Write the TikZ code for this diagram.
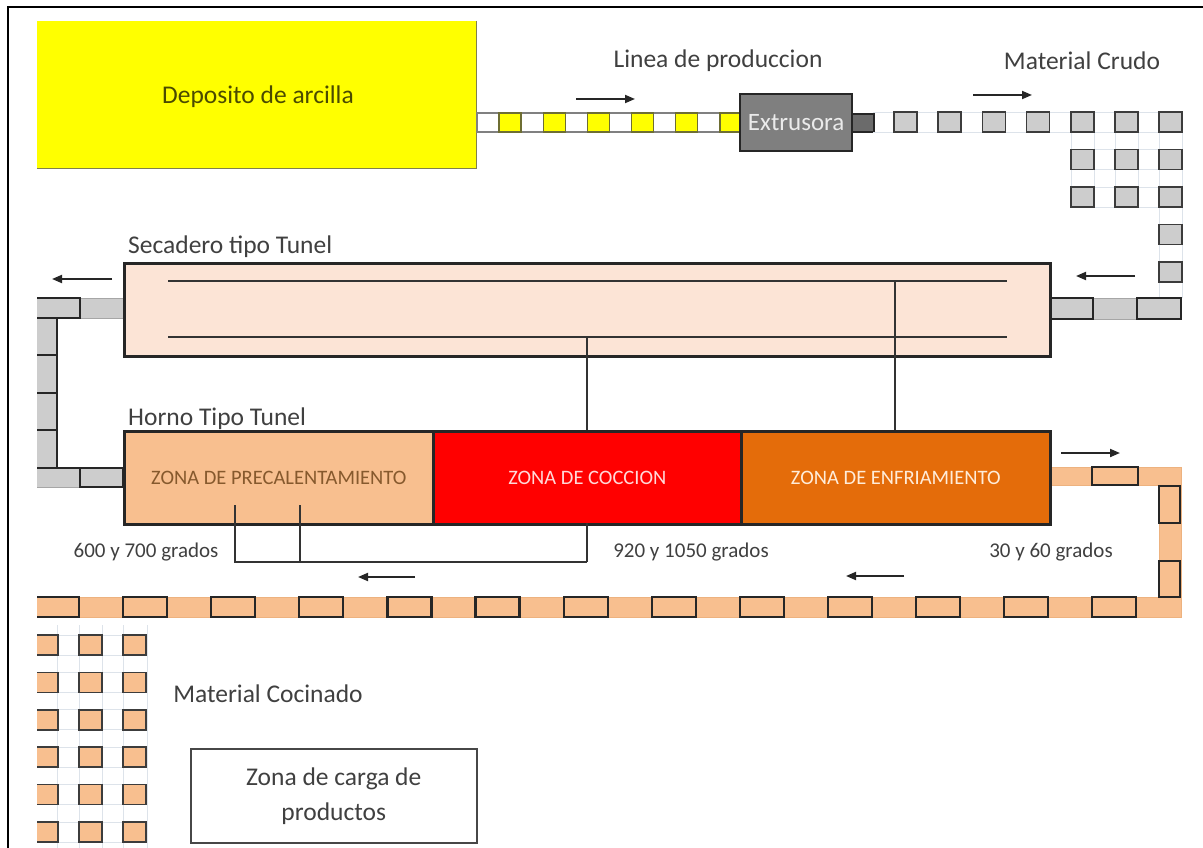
\documentclass[tikz,border=0pt]{standalone}
\usepackage{fontspec}
\setmainfont{Carlito}
\usetikzlibrary{arrows.meta}
\definecolor{txt}{HTML}{404040}
\definecolor{yel}{HTML}{FFFF00}
\definecolor{oliv}{HTML}{4A4A00}
\definecolor{peach}{HTML}{F8BF8F}
\definecolor{secfill}{HTML}{FCE4D6}
\definecolor{enf}{HTML}{E46C0A}
\definecolor{grayc}{HTML}{CDCDCD}
\definecolor{gridc}{HTML}{DDE3EA}
\definecolor{dark}{HTML}{262626}
\definecolor{extr}{HTML}{7F7F7F}
\begin{document}
\begin{tikzpicture}[x=1pt,y=-1pt,
  lbl/.style={text=txt,font=\fontsize{25.5}{30}\selectfont,inner sep=0pt},
  zone/.style={draw=dark,line width=2.6pt,minimum height=93pt,inner sep=0pt,anchor=north west,font=\fontsize{20.5}{24}\selectfont},
  grd/.style={font=\fontsize{21}{25}\selectfont,text=txt,inner sep=0pt},
  arr/.style={line width=1.9pt,draw=black!85,-{Triangle[length=10pt,width=8pt]}},
  gsq/.style={fill=grayc,draw=dark!90,line width=1.6pt},
  osq/.style={fill=peach,draw=dark!90,line width=1.6pt},
  brick/.style={draw=dark,line width=2.2pt},
  link/.style={draw=black!80,line width=1.6pt},
  faint/.style={draw=gridc,line width=0.9pt}
]
\useasboundingbox (0,0) rectangle (1203,848);
\fill[white] (0,0) rectangle (1203,848);
% frame
\draw[line width=2pt] (8,848) -- (8,7) -- (1203,7);

% deposito
\node[fill=yel,minimum width=439pt,minimum height=147pt,inner sep=0pt,anchor=north west] (dep) at (37,21) {};
\draw[oliv!70,line width=1.4pt] (dep.north east) -- (dep.south east) -- (dep.south west);
\node[text=oliv,font=\fontsize{25.5}{30}\selectfont,inner sep=0pt] (deptxt) at (258,97) {Deposito de arcilla};

% top yellow conveyor
\draw[gray,line width=1.2pt,fill=white] (477,113) rectangle (740,132);
\foreach \i in {0,...,5} {\draw[fill=yel,draw=oliv!80,line width=1.3pt] (499+44.2*\i,113) rectangle ++(22,19);}

% extrusora
\node[fill=extr,draw=dark,line width=2.4pt,minimum width=112pt,minimum height=57pt,inner sep=0pt,anchor=north west,text=white!92!black,font=\fontsize{25}{30}\selectfont] (ext) at (739,93) {Extrusora};
\node[fill=black!58,draw=dark,line width=2pt,minimum width=22pt,minimum height=18pt,inner sep=0pt,anchor=north west] (extout) at (851,113) {};

% raw material grid (faint lines)
\draw[faint] (873,112) -- (1182,112) (873,132) -- (1182,132);
\foreach \y in {149.5,169.5,187,207} {\draw[faint] (1071,\y) -- (1182,\y);}
\foreach \x in {1071,1094,1115,1138} {\draw[faint] (\x,112) -- (\x,207);}
\foreach \x in {1159,1182} {\draw[faint] (\x,112) -- (\x,298);}
\foreach \y in {224.5,244.5,262,282} {\draw[faint] (1159,\y) -- (1182,\y);}
\foreach \i in {0,...,6} {\draw[gsq] (894+44.2*\i,112) rectangle ++(23,20);}
\foreach \i in {4,5,6} {\foreach \r in {1,2} {\draw[gsq] (894+44.2*\i,112+37.5*\r) rectangle ++(23,20);}}
\foreach \r in {3,4} {\draw[gsq] (1159.2,112+37.5*\r) rectangle ++(23,20);}

% gray conveyor into secadero (right)
\draw[fill=grayc,draw=gray!70,line width=0.8pt] (1049,298) rectangle (1181,319);
\draw[brick] (1050,298) rectangle (1093,319);
\draw[brick] (1137,298) rectangle (1181,319);

% secadero
\node[fill=secfill,draw=dark,line width=2.6pt,minimum width=926pt,minimum height=93pt,inner sep=0pt,anchor=north west] (sec) at (123,262) {};
\node[lbl,anchor=west] (sectxt) at (128,247) {Secadero tipo Tunel};
\coordinate (s1a) at (168,281); \coordinate (s1b) at (1007,281);
\coordinate (s2a) at (168,337); \coordinate (s2b) at (1007,337);
\draw[link] (s1a) -- (s1b);
\draw[link] (s2a) -- (s2b);

% links secadero -> horno
\coordinate (la) at (587,337); \coordinate (lb) at (587,562);
\coordinate (ra) at (895,281); \coordinate (rb) at (895,430);
\draw[link] (la) -- (lb);
\draw[link] (ra) -- (rb);

% left gray conveyor (clipped)
\begin{scope}
\clip (37,0) rectangle (1203,848);
\fill[grayc] (30,298) rectangle (123,318);
\fill[grayc] (30,318) rectangle (57,468);
\fill[grayc] (30,468) rectangle (123,487);
\draw[gray!70,line width=0.8pt] (123,298) -- (30,298) (123,318) -- (57,318) -- (57,468) -- (123,468) (123,487) -- (30,487);
\draw[brick] (30,298) rectangle (80,318);
\foreach \a/\b in {318/355,355/393,393/430,430/468} {\draw[brick] (30,\a) rectangle (57,\b);}
\draw[brick] (30,468) -- (80,468);
\draw[brick] (80,468) rectangle (123,487);
% bottom conveyor
\fill[peach] (30,597) rectangle (1181,617);
\draw[peach!80!brown,line width=0.7pt] (30,597) rectangle (1181,617);
\foreach \k in {0,...,12} {\draw[brick] (35+88.1*\k,597) rectangle ++(44,20);}
% cooked material grid
\foreach \x in {57,79,102,123,147} {\draw[faint] (\x,625) -- (\x,848);}
\foreach \k in {0,...,5} {\draw[faint] (30,635+37.4*\k) -- (147,635+37.4*\k) (30,655+37.4*\k) -- (147,655+37.4*\k);}
\foreach \c in {0,1,2} {\foreach \k in {0,...,5} {\draw[osq] (35+44*\c,635+37.4*\k) rectangle ++(23,20);}}
\end{scope}

% right orange conveyor
\fill[peach] (1049,467) rectangle (1181,485);
\fill[peach] (1159,485) rectangle (1181,597);
\draw[peach!80!brown,line width=0.7pt] (1049,467) -- (1181,467) -- (1181,597) (1049,485) -- (1159,485) -- (1159,597);
\draw[brick] (1092,467) rectangle (1138,485);
\draw[brick] (1159,486) rectangle (1180,523);
\draw[brick] (1159,561) rectangle (1180,597);

% horno
\node[zone,fill=peach,minimum width=309pt,text=brown!70!black] (pre) at (123,430) {ZONA DE PRECALENTAMIENTO};
\node[zone,fill=red,minimum width=308pt,text=red!15!white] (coc) at (432,430) {ZONA DE COCCION};
\node[zone,fill=enf,minimum width=309pt,text=orange!15!white] (enfz) at (740,430) {ZONA DE ENFRIAMIENTO};
\node[lbl,anchor=west] (horntxt) at (128,419) {Horno Tipo Tunel};
\coordinate (p1) at (235,505); \coordinate (p2) at (300,505);
\draw[link] (p1) |- (lb);
\draw[link] (p2) -- (300,562);
\draw[link] (587,523) -- (lb);

% temperatures
\node[grd] (t1) at (146,552) {600 y 700 grados};
\node[grd] (t2) at (691,552) {920 y 1050 grados};
\node[grd] (t3) at (1051,552) {30 y 60 grados};

% top labels
\node[lbl] (linea) at (718,61) {Linea de produccion};
\node[lbl] (crudo) at (1082,61) {Material Crudo};
\node[lbl] (cocin) at (268,694) {Material Cocinado};

% carga box
\node[draw=dark!85,line width=1.5pt,minimum width=286pt,minimum height=94pt,anchor=north west,inner sep=0pt] (carga) at (190,748) {};
\node[lbl,align=center,font=\fontsize{25.5}{35}\selectfont] (cargatxt) at (carga.center) {Zona de carga de\\productos};

% arrows
\coordinate (a1s) at (576,99); \coordinate (a1e) at (635,99);
\coordinate (a2s) at (973,95); \coordinate (a2e) at (1032,95);
\coordinate (a3s) at (1135,276); \coordinate (a3e) at (1076,276);
\coordinate (a4s) at (112,279); \coordinate (a4e) at (52,279);
\coordinate (a5s) at (1061,453); \coordinate (a5e) at (1120,453);
\coordinate (a6s) at (415,577); \coordinate (a6e) at (358,577);
\coordinate (a7s) at (904,576); \coordinate (a7e) at (846,576);
\draw[arr] (a1s) -- (a1e);
\draw[arr] (a2s) -- (a2e);
\draw[arr] (a3s) -- (a3e);
\draw[arr] (a4s) -- (a4e);
\draw[arr] (a5s) -- (a5e);
\draw[arr] (a6s) -- (a6e);
\draw[arr] (a7s) -- (a7e);
\end{tikzpicture}
\end{document}
